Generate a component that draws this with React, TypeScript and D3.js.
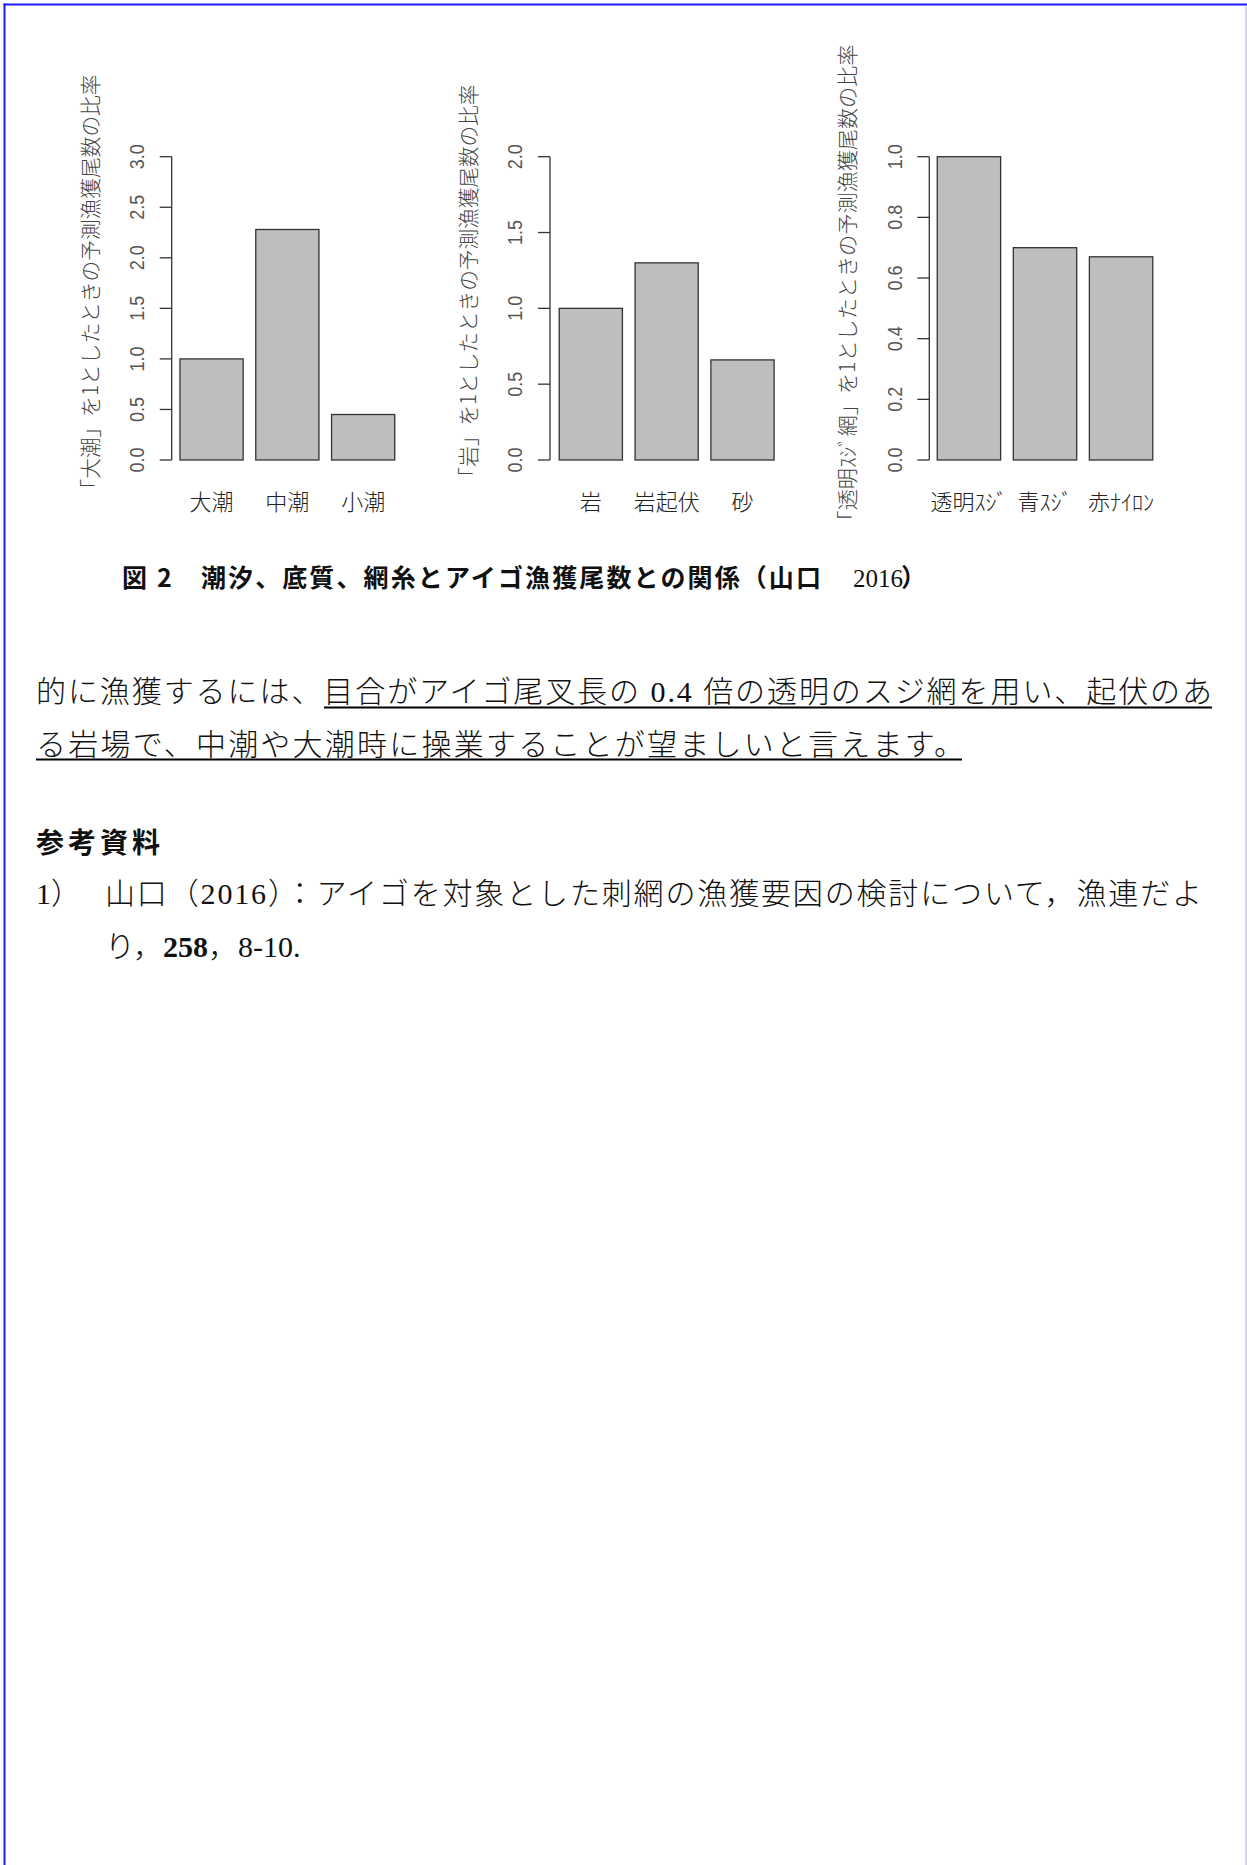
import React from 'react';
import * as d3 from 'd3';

const tideCategories = ['大潮', '中潮', '小潮'];
const tideValues = [1.0, 2.28, 0.45];
const tideTicks = [0, 0.5, 1.0, 1.5, 2.0, 2.5, 3.0];
const tideTitle = '「大潮」を1としたときの予測漁獲尾数の比率';

const substrateCategories = ['岩', '岩起伏', '砂'];
const substrateValues = [1.0, 1.3, 0.66];
const substrateTicks = [0, 0.5, 1.0, 1.5, 2.0];
const substrateTitle = '「岩」を1としたときの予測漁獲尾数の比率';

const netCategories = ['透明ｽｼﾞ', '青ｽｼﾞ', '赤ﾅｲﾛﾝ'];
const netValues = [1.0, 0.7, 0.67];
const netTicks = [0, 0.2, 0.4, 0.6, 0.8, 1.0];
const netTitle = '「透明ｽｼﾞ網」を1としたときの予測漁獲尾数の比率';

const captionText = '図 2　潮汐、底質、網糸とアイゴ漁獲尾数との関係（山口';
const captionYear = '2016';
const captionClose = '）';
const bodyLine1 = '的に漁獲するには、目合がアイゴ尾叉長の 0.4 倍の透明のスジ網を用い、起伏のあ';
const bodyLine2 = 'る岩場で、中潮や大潮時に操業することが望ましいと言えます。';
const refHeading = '参考資料';
const refNumber = '1）';
const refLine1 = '山口（2016）：アイゴを対象とした刺網の漁獲要因の検討について，漁連だよ';
const refLine2a = 'り，';
const refLine2b = '258';
const refLine2c = '，8-10.';

const JP = "'Noto Sans CJK JP', sans-serif";
const JP_SERIF = "'Liberation Serif', 'Noto Sans CJK JP', serif";
const SANS = "'Liberation Sans', Arial, sans-serif";

type PanelProps = {
  categories: string[];
  values: number[];
  ticks: number[];
  title: string;
  axisX: number;
  range: [number, number];
  titleLen: number;
  titleCenter: number;
};

const Y_TOP = 156.7;
const Y_BOTTOM = 460;

function Panel({ categories, values, ticks, title, axisX, range, titleLen, titleCenter }: PanelProps) {
  const y = d3.scaleLinear().domain([0, ticks[ticks.length - 1]]).range([Y_BOTTOM, Y_TOP]);
  const x = d3.scaleBand<string>().domain(categories).range(range).paddingInner(0.1667).paddingOuter(0.0833);
  const fmt = d3.format('.1f');
  return (
    <g>
      {categories.map((c, i) => (
        <rect key={c} x={x(c)} y={y(values[i])} width={x.bandwidth()} height={y(0) - y(values[i])}
          fill="#bebebe" stroke="#333" strokeWidth={1.3} />
      ))}
      <line x1={axisX} x2={axisX} y1={y(ticks[0])} y2={y(ticks[ticks.length - 1])} stroke="#333" strokeWidth={1.3} />
      {ticks.map(t => (
        <g key={t}>
          <line x1={axisX - 12} x2={axisX} y1={y(t)} y2={y(t)} stroke="#333" strokeWidth={1.3} />
          <text transform={`translate(${axisX - 35},${y(t)}) scale(1.15,1) rotate(-90)`} dy="0.36em" textAnchor="middle"
            fontFamily={SANS} fontSize={18} fill="#555">{fmt(t)}</text>
        </g>
      ))}
      {categories.map(c => (
        <text key={c} x={(x(c) as number) + x.bandwidth() / 2} y={510} textAnchor="middle"
          fontFamily={JP} fontWeight={300} fontSize={22} fill="#222">{c}</text>
      ))}
      <text transform={`translate(${axisX - 82},${titleCenter}) rotate(-90)`} dy="0.38em" textAnchor="middle"
        fontFamily={JP} fontWeight={300} fontSize={21} fill="#444" textLength={titleLen} lengthAdjust="spacingAndGlyphs">{title}</text>
    </g>
  );
}

export default function App() {
  return (
    <svg width={1247} height={1865} style={{ position: 'absolute', left: 0, top: 0, background: '#fff' }}>
      <rect x={0} y={0} width={1247} height={1865} fill="#fff" />
      <line x1={3.5} x2={1247} y1={4.5} y2={4.5} stroke="#1a1aff" strokeWidth={2} />
      <line x1={4.5} x2={4.5} y1={3.5} y2={1865} stroke="#1a1aff" strokeWidth={2} />
      <line x1={1246} x2={1246} y1={5.5} y2={1865} stroke="#aaaaee" strokeWidth={1} />

      <Panel categories={tideCategories} values={tideValues} ticks={tideTicks} title={tideTitle}
        axisX={171.7} range={[173.65, 401.05]} titleLen={425} titleCenter={287} />
      <Panel categories={substrateCategories} values={substrateValues} ticks={substrateTicks} title={substrateTitle}
        axisX={550} range={[552.9, 780.4]} titleLen={403} titleCenter={286} />
      <Panel categories={netCategories} values={netValues} ticks={netTicks} title={netTitle}
        axisX={929.3} range={[930.9, 1159.1]} titleLen={487} titleCenter={288} />

      <text x={122} y={587} fontFamily={JP} fontWeight={700} fontSize={25} fill="#111" textLength={699} lengthAdjust="spacing">
        {captionText}
      </text>
      <text x={853} y={587} fontFamily={JP_SERIF} fontWeight={400} fontSize={25} fill="#111">{captionYear}</text>
      <text x={901} y={587} fontFamily={JP} fontWeight={700} fontSize={25} fill="#111">{captionClose}</text>

      <text x={36} y={702} fontFamily={JP_SERIF} fontWeight={300} fontSize={30} fill="#111" textLength={1176} lengthAdjust="spacing">
        {bodyLine1}
      </text>
      <line x1={324} x2={1212} y1={707.5} y2={707.5} stroke="#000" strokeWidth={2} />
      <text x={36} y={755} fontFamily={JP_SERIF} fontWeight={300} fontSize={30} fill="#111" textLength={928} lengthAdjust="spacing">
        {bodyLine2}
      </text>
      <line x1={36} x2={962} y1={759.5} y2={759.5} stroke="#000" strokeWidth={2} />

      <text x={36} y={853} fontFamily={JP} fontWeight={700} fontSize={28} fill="#111" textLength={124} lengthAdjust="spacing">
        {refHeading}
      </text>
      <text x={36} y={904} fontFamily={JP_SERIF} fontWeight={300} fontSize={30} fill="#111">{refNumber}</text>
      <text x={105} y={904} fontFamily={JP_SERIF} fontWeight={300} fontSize={30} fill="#111" textLength={1097} lengthAdjust="spacing">
        {refLine1}
      </text>
      <text x={105} y={957} fontFamily={JP_SERIF} fontWeight={300} fontSize={30} fill="#111">
        {refLine2a}
        <tspan fontWeight={700}>{refLine2b}</tspan>
        <tspan>{refLine2c}</tspan>
      </text>
    </svg>
  );
}
